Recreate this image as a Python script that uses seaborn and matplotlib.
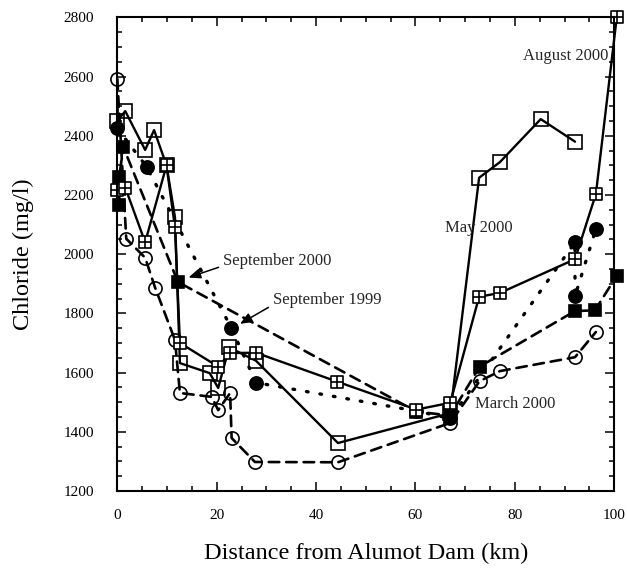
import numpy as np
import pandas as pd
import matplotlib
matplotlib.use("Agg")
import matplotlib.pyplot as plt
from matplotlib.path import Path
from matplotlib.ticker import MultipleLocator
import seaborn as sns

# chloride along the river
aug_x = [0, 1.6, 5.6, 9.9, 11.6, 12.6, 20.3, 22.7, 27.9, 44.3, 60.2, 67, 72.8, 77, 92.1, 96.3, 100.5]
aug_y = [2215, 2225, 2040, 2300, 2090, 1700, 1620, 1666, 1667, 1569, 1475, 1498, 1856, 1869, 1983, 2203, 2800]

may_x = [0, 1.6, 5.6, 7.4, 9.9, 11.6, 12.6, 18.6, 20.3, 22.5, 27.9, 44.4, 67, 72.8, 77, 85.2, 92.1]
may_y = [2450, 2483, 2352, 2419, 2300, 2125, 1632, 1598, 1548, 1685, 1640, 1362, 1463, 2258, 2311, 2456, 2380]

sep00_x = [0.4, 0.4, 1.2, 12.2, 60.2, 67, 72.9, 92.1, 96.1, 100.5]
sep00_y = [2165, 2262, 2362, 1906, 1468, 1455, 1620, 1808, 1810, 1927]

sep99_x = [0, 5.9, 22.9, 27.9, 60.2, 67, 92.1, 92.1, 96.3]
sep99_y = [2425, 2295, 1752, 1566, 1470, 1445, 2040, 1858, 2085]

mar_x = [0, 1.8, 5.6, 7.6, 11.6, 12.6, 19.0, 20.3, 22.7, 23.0, 27.7, 44.4, 67, 72.9, 77, 92.1, 96.3]
mar_y = [2592, 2052, 1988, 1887, 1710, 1531, 1518, 1473, 1531, 1379, 1298, 1297, 1430, 1571, 1605, 1652, 1737]

# square with a cross inside
boxplus = Path(
    [(-1, -1), (1, -1), (1, 1), (-1, 1), (-1, -1), (0, -1), (0, 1), (-1, 0), (1, 0)],
    [Path.MOVETO, Path.LINETO, Path.LINETO, Path.LINETO, Path.CLOSEPOLY,
     Path.MOVETO, Path.LINETO, Path.MOVETO, Path.LINETO],
)

sns.set_theme(style="ticks")
plt.rcParams["font.family"] = ["Liberation Serif", "DejaVu Serif"]

fig = plt.figure(figsize=(6.27, 5.69), dpi=100)
ax = fig.add_axes([0.1871, 0.1371, 0.7926, 0.8325])


def draw(x, y, ls, lw, marker, ms, mfc):
    sns.lineplot(x=x, y=y, ax=ax, estimator=None, sort=False, color="black",
                 linestyle=ls, linewidth=lw, marker=marker, markersize=ms,
                 markerfacecolor=mfc, markeredgecolor="black",
                 markeredgewidth=1.2, clip_on=False)


draw(mar_x, mar_y, (0, (4, 2.6)), 1.9, "o", 9.5, "none")
draw(sep99_x, sep99_y, (0, (0.5, 3.6)), 2.4, "o", 9.5, "black")
draw(sep00_x, sep00_y, (0, (4, 2.6)), 1.9, "s", 8, "black")
draw(may_x, may_y, "-", 1.7, "s", 9.5, "none")
draw(aug_x, aug_y, "-", 1.7, boxplus, 8.5, "white")

for line in ax.lines:
    line.set_dash_capstyle("round")

ax.set_xlim(0, 100)
ax.set_ylim(1200, 2800)
ax.xaxis.set_major_locator(MultipleLocator(20))
ax.xaxis.set_minor_locator(MultipleLocator(5))
ax.yaxis.set_major_locator(MultipleLocator(200))
ax.yaxis.set_minor_locator(MultipleLocator(50))
ax.tick_params(which="both", direction="in", top=True, right=True,
               color="black", width=1.1, labelsize=11, labelcolor="black")
ax.tick_params(which="major", length=6.5)
ax.tick_params(which="minor", length=3.3)
ax.tick_params(axis="x", pad=13)
ax.tick_params(axis="y", pad=17)
for sp in ax.spines.values():
    sp.set_linewidth(1.5)
    sp.set_color("black")

ax.set_xlabel("Distance from Alumot Dam (km)", fontsize=17.5, color="black")
ax.set_ylabel("Chloride (mg/l)", fontsize=17.5, color="black")
ax.xaxis.set_label_coords(0.5, -0.131)
ax.yaxis.set_label_coords(-0.188, 0.5)
ax.xaxis.label.set_va("center")
ax.yaxis.label.set_va("center")

ax.text(98.8, 2669, "August 2000", ha="right", va="center", fontsize=12)
ax.text(66, 2088, "May 2000", ha="left", va="center", fontsize=12)
ax.text(72, 1494, "March 2000", ha="left", va="center", fontsize=12)

arrow = dict(arrowstyle="-|>,head_length=0.6,head_width=0.25", color="black",
             lw=1.1, shrinkA=1, shrinkB=2, relpos=(0, 0.2))
ax.annotate("September 2000", xy=(13.8, 1918), xytext=(21.3, 1977),
            ha="left", va="center", fontsize=12, arrowprops=arrow)
ax.annotate("September 1999", xy=(24.2, 1760), xytext=(31.3, 1845),
            ha="left", va="center", fontsize=12, arrowprops=arrow)

fig.savefig("out.png", dpi=100)
